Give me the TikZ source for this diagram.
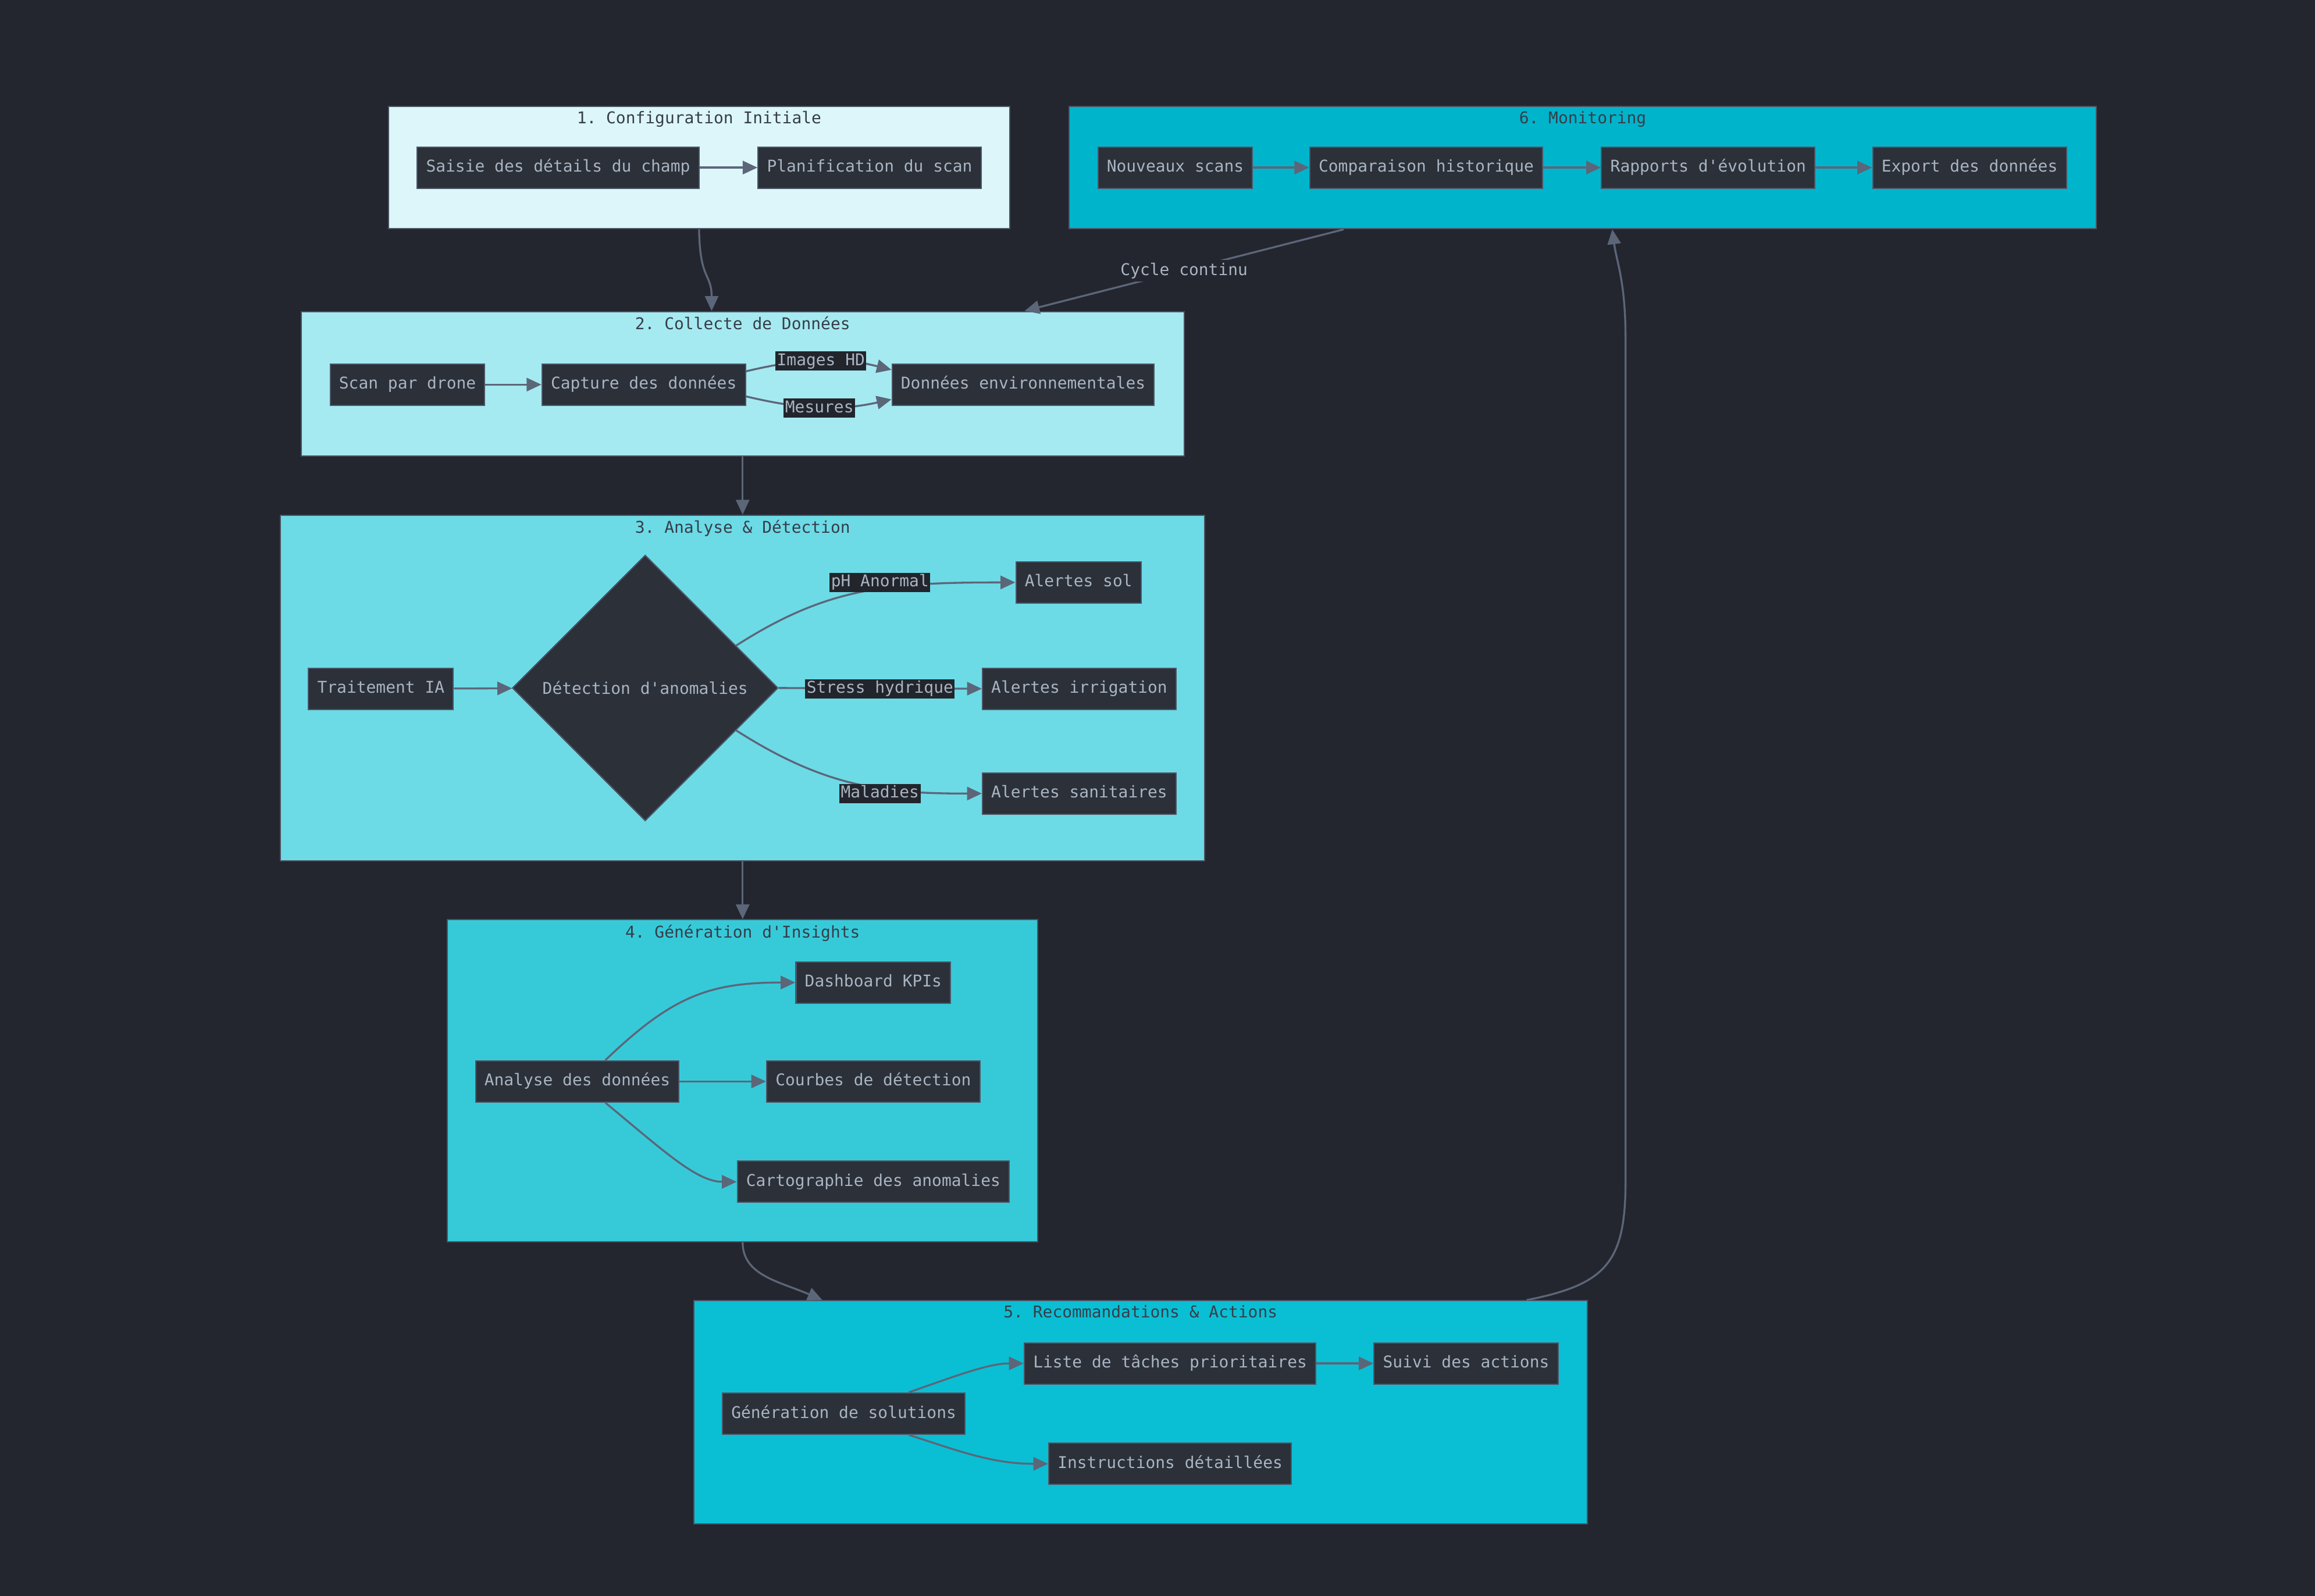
\documentclass[tikz,border=0pt]{standalone}
\usepackage{fontspec}
\setmainfont{DejaVu Sans Mono}
\usetikzlibrary{shapes.geometric,arrows.meta,calc}
\definecolor{bg}{HTML}{23262E}
\definecolor{nodefill}{HTML}{2B3039}
\definecolor{nodeborder}{HTML}{4C5667}
\definecolor{nodetext}{HTML}{AAB5C2}
\definecolor{edgecol}{HTML}{5C6679}
\definecolor{clborder}{HTML}{4B5263}
\definecolor{cltitle}{HTML}{363D49}
\definecolor{labelbg}{HTML}{22252C}
\definecolor{cA}{HTML}{DCF6FA}
\definecolor{cB}{HTML}{A5EAF0}
\definecolor{cC}{HTML}{6CDBE6}
\definecolor{cD}{HTML}{36CAD9}
\definecolor{cE}{HTML}{0ABFD4}
\definecolor{cF}{HTML}{00B4CB}
\tikzset{
  box/.style={draw=nodeborder, fill=nodefill, text=nodetext, line width=0.8pt,
    minimum height=28pt, inner xsep=6pt, inner ysep=0pt, text height=8.5pt, text depth=2.5pt},
  cluster/.style={draw=clborder, line width=0.8pt, inner sep=0pt},
  cltitlestyle/.style={anchor=north, text=cltitle, inner sep=3.5pt},
  edge/.style={draw=edgecol, line width=1.3pt, -{Triangle[length=10pt,width=9pt]}},
  elabel/.style={fill=labelbg, text=nodetext, inner sep=1pt, text height=8.5pt, text depth=2.5pt},
  freelabel/.style={fill=bg, text=nodetext, inner sep=2pt},
}
\frenchspacing
\begin{document}
\begin{tikzpicture}[x=1pt,y=-1pt, font=\fontsize{11}{13}\selectfont]
\fill[bg] (0,0) rectangle (1568,1081);
\useasboundingbox (0,0) rectangle (1568,1081);

% clusters
\node[cluster, fill=cA, minimum width=421pt, minimum height=83pt] (c1) at (473.5,113.5) {};
\node[cluster, fill=cF, minimum width=696pt, minimum height=83pt] (c6) at (1072,113.5) {};
\node[cluster, fill=cB, minimum width=598pt, minimum height=98pt] (c2) at (503,260) {};
\node[cluster, fill=cC, minimum width=626pt, minimum height=234pt] (c3) at (503,466) {};
\node[cluster, fill=cD, minimum width=400pt, minimum height=218pt] (c4) at (503,732) {};
\node[cluster, fill=cE, minimum width=605pt, minimum height=151pt] (c5) at (772.5,956.5) {};

\node[cltitlestyle] (t1) at (c1.north) {1. Configuration Initiale};
\node[cltitlestyle] (t6) at (c6.north) {6. Monitoring};
\node[cltitlestyle] (t2) at (c2.north) {2. Collecte de Données};
\node[cltitlestyle] (t3) at (c3.north) {3. Analyse \& Détection};
\node[cltitlestyle] (t4) at (c4.north) {4. Génération d\textquotesingle Insights};
\node[cltitlestyle] (t5) at (c5.north) {5. Recommandations \& Actions};

% cluster 1
\node[box] (saisie) at (378,113.5) {Saisie des détails du champ};
\node[box] (planif) at (589,113.5) {Planification du scan};
\draw[edge] (saisie) -- (planif);

% cluster 6
\node[box] (nouv) at (796,113.5) {Nouveaux scans};
\node[box] (comp) at (966,113.5) {Comparaison historique};
\node[box] (rapp) at (1157,113.5) {Rapports d\textquotesingle évolution};
\node[box] (expo) at (1334,113.5) {Export des données};
\draw[edge] (nouv) -- (comp);
\draw[edge] (comp) -- (rapp);
\draw[edge] (rapp) -- (expo);

% cluster 2
\node[box] (scan) at (276,260.5) {Scan par drone};
\node[box] (capt) at (436,260.5) {Capture des données};
\node[box] (donn) at (693,260.5) {Données environnementales};
\draw[edge] (scan) -- (capt);
\draw[edge] ([yshift=9pt]capt.east) .. controls (545,242) and (570,242) .. ([yshift=10pt]donn.west);
\draw[edge] ([yshift=-8pt]capt.east) .. controls (545,278) and (570,278) .. ([yshift=-10pt]donn.west);
\node[elabel] (limg) at (556,244.5) {Images HD};
\node[elabel] (lmes) at (555,276.5) {Mesures};

% cluster 3
\node[box] (trait) at (258,466.5) {Traitement IA};
\node[diamond, draw=nodeborder, fill=nodefill, text=nodetext, line width=0.8pt,
      minimum width=180pt, minimum height=180pt, inner sep=0pt] (det) at (437,466) {Détection d\textquotesingle anomalies};
\node[box] (asol) at (730.5,394.5) {Alertes sol};
\node[box] (airr) at (731,466.5) {Alertes irrigation};
\node[box] (asan) at (731,537.5) {Alertes sanitaires};
\draw[edge] (trait) -- (det);
\draw[edge] (det.25) .. controls (560,398) and (600,394.5) .. (asol.west);
\draw[edge] (det.east) -- (airr.west);
\draw[edge] (det.-25) .. controls (560,534) and (600,537.5) .. (asan.west);
\node[elabel] (lph) at (596,394.5) {pH Anormal};
\node[elabel] (lstr) at (596,466.5) {Stress hydrique};
\node[elabel] (lmal) at (596,537.5) {Maladies};

% cluster 4
\node[box] (anal) at (391,732.5) {Analyse des données};
\node[box] (dash) at (591.5,665.5) {Dashboard KPIs};
\node[box] (courb) at (591.5,732.5) {Courbes de détection};
\node[box] (carto) at (591.5,800.5) {Cartographie des anomalies};
\draw[edge] ([xshift=19pt]anal.north) .. controls (455,675) and (480,665.5) .. (dash.west);
\draw[edge] (anal) -- (courb);
\draw[edge] ([xshift=19pt]anal.south) .. controls (450,780) and (472,800.5) .. (carto.west);

% cluster 5
\node[box] (gen) at (571.5,957.5) {Génération de solutions};
\node[box] (liste) at (792.5,923.5) {Liste de tâches prioritaires};
\node[box] (suivi) at (993,923.5) {Suivi des actions};
\node[box] (instr) at (792.5,991.5) {Instructions détaillées};
\draw[edge] ([xshift=44pt]gen.north) .. controls (650,931) and (670,923.5) .. (liste.west);
\draw[edge] (liste) -- (suivi);
\draw[edge] ([xshift=44pt]gen.south) .. controls (650,983) and (672,991.5) .. (instr.west);

% inter-cluster connectors
\draw[edge] (c1.south) .. controls (474,190) and (482,185) .. ([xshift=-21pt]c2.north);
\draw[edge] ([xshift=-162pt]c6.south) -- ([xshift=191pt]c2.north);
\node[freelabel] (lcyc) at (802,183.5) {Cycle continu};
\draw[edge] (c2.south) -- (c3.north);
\draw[edge] (c3.south) -- (c4.north);
\draw[edge] (c4.south) .. controls (503,864) and (528,868) .. ([xshift=-215.5pt]c5.north);
\draw[edge] ([xshift=261.5pt]c5.north) .. controls (1088,870) and (1101,855) .. (1101,800)
   -- (1101,230) .. controls (1101,190) and (1095,178) .. ([xshift=20pt]c6.south);
\end{tikzpicture}
\end{document}
